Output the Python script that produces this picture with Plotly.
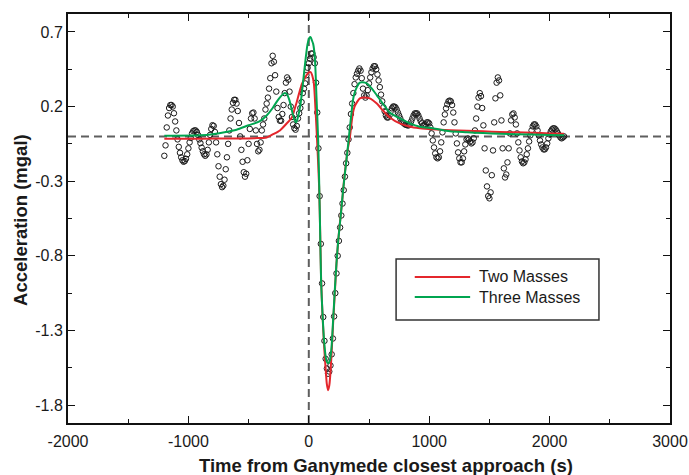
import plotly.graph_objects as go

# Observed acceleration, sampled every 10 s from -1200 s to 2120 s
t_start, t_step = -1200, 10
obs_accel = [
    -0.13, -0.06, 0.06, 0.14, 0.19, 0.21, 0.21, 0.20, 0.155, 0.10,
    0.04, -0.02, -0.07, -0.11, -0.14, -0.16, -0.17, -0.165, -0.15, -0.12,
    -0.08, -0.04, -0.01, 0.02, 0.035, 0.04, 0.04, 0.03, 0.01, -0.02,
    -0.045, -0.075, -0.10, -0.12, -0.13, -0.12, -0.09, -0.04, 0.01, 0.05,
    0.075, 0.07, 0.03, -0.04, -0.12, -0.20, -0.27, -0.32, -0.34, -0.33,
    -0.29, -0.22, -0.14, -0.05, 0.04, 0.12, 0.18, 0.225, 0.245, 0.245,
    0.22, 0.17, 0.09, 0.0, -0.09, -0.17, -0.24, -0.27, -0.25, -0.16,
    -0.05, 0.05, 0.12, 0.155, 0.16, 0.12, 0.04, -0.05, -0.10, -0.09,
    -0.04, 0.04, 0.08, 0.12, 0.18, 0.22, 0.26, 0.32, 0.39, 0.49,
    0.54, 0.50, 0.41, 0.30, 0.19, 0.13, 0.105, 0.105, 0.15, 0.21,
    0.29, 0.36, 0.395, 0.38, 0.30, 0.20, 0.13, 0.08, 0.055, 0.045,
    # t = -100 s
    0.07, 0.12, 0.155, 0.19, 0.23, 0.29, 0.32, 0.355, 0.41, 0.46,
    # t = 0 s
    0.49, 0.52, 0.555, 0.555, 0.53, 0.49, 0.36, 0.16, -0.08, -0.40,
    -0.72, -0.985, -1.21, -1.37, -1.49, -1.555, -1.59, -1.575, -1.535, -1.46,
    -1.354, -1.206, -1.05, -0.918, -0.80, -0.70, -0.61, -0.53, -0.45, -0.36,
    -0.27, -0.18, -0.11, -0.02, 0.06, 0.15, 0.22, 0.29, 0.35, 0.395,
    0.42, 0.44, 0.455, 0.44, 0.39, 0.32, 0.275, 0.26, 0.275, 0.31,
    0.355, 0.395, 0.43, 0.455, 0.47, 0.47, 0.45, 0.415, 0.375, 0.33,
    0.28, 0.235, 0.195, 0.168, 0.14, 0.127, 0.127, 0.14, 0.168, 0.188,
    0.20, 0.20, 0.195, 0.18, 0.16, 0.14, 0.12, 0.10, 0.094, 0.087,
    0.08, 0.077, 0.074, 0.074, 0.08, 0.10, 0.12, 0.14, 0.154, 0.154,
    0.154, 0.14, 0.12, 0.10, 0.087, 0.074, 0.074, 0.08, 0.094, 0.094,
    # t = 1000 s
    0.087, 0.06, 0.02, -0.027, -0.074, -0.114, -0.14, -0.147, -0.14, -0.10,
    -0.04, 0.027, 0.094, 0.147, 0.188, 0.215, 0.235, 0.24, 0.235, 0.21,
    0.16, 0.094, 0.02, -0.047, -0.107, -0.147, -0.174, -0.174, -0.147, -0.10,
    -0.054, -0.02, -0.013, -0.02, -0.034, -0.047, -0.04, -0.013, 0.04, 0.12,
    0.20, 0.26, 0.29, 0.27, 0.19, 0.074, -0.08, -0.228, -0.335, -0.40,
    -0.415, -0.375, -0.26, -0.094, 0.094, 0.255, 0.36, 0.395, 0.375, 0.275,
    0.107, -0.08, -0.214, -0.275, -0.255, -0.174, -0.08, 0.02, 0.107, 0.147,
    0.154, 0.127, 0.08, 0.02, -0.04, -0.094, -0.14, -0.168, -0.18, -0.174,
    -0.154, -0.12, -0.08, -0.034, 0.007, 0.04, 0.067, 0.08, 0.08, 0.067,
    0.04, 0.007, -0.027, -0.054, -0.074, -0.087, -0.087, -0.074, -0.047, -0.013,
    # t = 2000 s
    0.013, 0.034, 0.047, 0.054, 0.054, 0.047, 0.034, 0.02, 0.007, -0.007,
    -0.013, -0.007, 0.0,
]
obs_time = [t_start + i * t_step for i in range(len(obs_accel))]

# Model with two point masses
two_time = [-1200, -900, -600, -450, -350, -300, -240, -183, -141, -116,
            -100, -80, -58, -33, -10, 5, 17, 28, 42, 55,
            69, 86, 95, 102, 114, 127, 140, 150, 160, 170,
            180, 189, 202, 216, 230, 252, 280, 293, 310, 325,
            341, 355, 366, 380, 399, 424, 465, 507, 565, 615,
            673, 756, 839, 922, 1030, 1172, 1313, 1446, 1587, 1862,
            2003, 2120]
two_accel = [-0.015, -0.015, -0.014, -0.012, -0.007, 0.013, 0.04, 0.087, 0.127, 0.188,
             0.23, 0.29, 0.35, 0.39, 0.42, 0.43, 0.43, 0.41, 0.355, 0.19,
             -0.03, -0.34, -0.66, -0.95, -1.2, -1.40, -1.56, -1.66, -1.70, -1.67,
             -1.58, -1.455, -1.25, -1.05, -0.85, -0.63, -0.41, -0.29, -0.17, -0.08,
             -0.007, 0.09, 0.154, 0.20, 0.228, 0.255, 0.26, 0.255, 0.22, 0.174,
             0.127, 0.087, 0.065, 0.055, 0.048, 0.042, 0.038, 0.034, 0.03, 0.024,
             0.02, 0.018]

# Model with three point masses
three_time = [-1200, -900, -800, -700, -600, -500, -410, -350, -300, -260,
              -225, -200, -180, -160, -145, -130, -115, -105, -90, -70,
              -55, -40, -25, -10, 5, 15, 25, 36, 50, 64,
              78, 91, 102, 114, 127, 141, 150, 160, 175, 189,
              202, 216, 230, 244, 264, 285, 300, 315, 330, 341,
              355, 366, 380, 399, 424, 449, 482, 524, 565, 615,
              673, 756, 839, 922, 1030, 1172, 1313, 1446, 1587, 1862,
              2003, 2120]
three_accel = [0.005, 0.008, 0.015, 0.028, 0.045, 0.075, 0.10, 0.14, 0.19, 0.24,
               0.275, 0.29, 0.28, 0.24, 0.19, 0.14, 0.105, 0.094, 0.13, 0.21,
               0.31, 0.42, 0.53, 0.62, 0.66, 0.665, 0.645, 0.62, 0.53, 0.26,
               -0.027, -0.5, -0.965, -1.19, -1.37, -1.48, -1.51, -1.52, -1.50, -1.41,
               -1.23, -1.03, -0.85, -0.70, -0.54, -0.36, -0.25, -0.14, -0.03, 0.06,
               0.16, 0.24, 0.29, 0.33, 0.36, 0.362, 0.355, 0.32, 0.275, 0.22,
               0.16, 0.12, 0.087, 0.065, 0.054, 0.035, 0.028, 0.022, 0.018, 0.012,
               0.01, 0.007]

x_tick_vals = [-2000, -1000, 0, 1000, 2000, 3000]
x_tick_text = ["-2000", "-1000", "0", "1000", "2000", "3000"]
x_minor_vals = [-1500, -500, 500, 1500, 2500]
y_tick_vals = [-1.8, -1.3, -0.8, -0.3, 0.2, 0.7]
y_tick_text = ["-1.8", "-1.3", "-0.8", "-0.3", "0.2", "0.7"]
y_minor_vals = [-1.55, -1.05, -0.55, -0.05, 0.45]

series_names = ["Two Masses", "Three Masses"]
RED = "#e4262c"
GREEN = "#00a550"
FONT = "Liberation Sans, Arial, Helvetica, sans-serif"

fig = go.Figure()
fig.add_trace(go.Scatter(
    x=obs_time, y=obs_accel, mode="markers", showlegend=False,
    marker=dict(symbol="circle-open", size=5.5, color="#1a1a1a",
                line=dict(width=1, color="#1a1a1a")),
))
fig.add_trace(go.Scatter(
    x=two_time, y=two_accel, mode="lines", name=series_names[0], showlegend=False,
    line=dict(color=RED, width=2, shape="spline", smoothing=0.7),
))
fig.add_trace(go.Scatter(
    x=three_time, y=three_accel, mode="lines", name=series_names[1], showlegend=False,
    line=dict(color=GREEN, width=2, shape="spline", smoothing=0.7),
))

dash = dict(color="#5e5e5e", width=2, dash="8px,5px")
shapes = [
    dict(type="line", xref="paper", yref="y", x0=0, x1=1, y0=0, y1=0, line=dash, layer="below"),
    dict(type="line", xref="x", yref="paper", x0=0, x1=0, y0=0, y1=1, line=dash, layer="below"),
    # legend box and its line samples
    dict(type="rect", xref="paper", yref="paper", x0=0.545, x1=0.882, y0=0.252, y1=0.401,
         line=dict(color="#333333", width=1.5), fillcolor="white"),
    dict(type="line", xref="paper", yref="paper", x0=0.576, x1=0.668, y0=0.357, y1=0.357,
         line=dict(color=RED, width=2)),
    dict(type="line", xref="paper", yref="paper", x0=0.576, x1=0.668, y0=0.308, y1=0.308,
         line=dict(color=GREEN, width=2)),
]

annotations = [
    dict(text=series_names[0], xref="paper", yref="paper", x=0.679, y=0.359,
         xanchor="left", yanchor="middle", showarrow=False,
         font=dict(family=FONT, size=16, color="#1a1a1a")),
    dict(text=series_names[1], xref="paper", yref="paper", x=0.679, y=0.308,
         xanchor="left", yanchor="middle", showarrow=False,
         font=dict(family=FONT, size=16, color="#1a1a1a")),
    dict(text="Time from Ganymede closest approach (s)", xref="paper", yref="paper",
         x=0.529, y=-0.103, xanchor="center", yanchor="middle", showarrow=False,
         font=dict(family=FONT, size=18.5, color="#1a1a1a", weight="bold")),
    dict(text="Acceleration (mgal)", xref="paper", yref="paper", textangle=-90,
         x=-0.08, y=0.496, xanchor="center", yanchor="middle", showarrow=False,
         font=dict(family=FONT, size=18.5, color="#1a1a1a", weight="bold")),
]

axis_common = dict(
    showgrid=False, zeroline=False, showline=True, linewidth=2, linecolor="#111111",
    mirror="allticks", ticks="inside", ticklen=7, tickwidth=1.3, tickcolor="#111111",
    tickfont=dict(family=FONT, size=16, color="#1a1a1a"), tickmode="array",
    automargin=False,
)

fig.update_layout(
    width=689, height=475,
    margin=dict(l=68, r=19, t=14, b=52),
    paper_bgcolor="white", plot_bgcolor="white",
    shapes=shapes, annotations=annotations,
    xaxis=dict(range=[-2000, 3000], tickvals=x_tick_vals, ticktext=x_tick_text,
               ticklabelstandoff=3,
               minor=dict(tickmode="array", tickvals=x_minor_vals, ticks="inside",
                          ticklen=4, tickwidth=1.2, tickcolor="#111111", showgrid=False),
               **axis_common),
    yaxis=dict(range=[-1.92, 0.82], tickvals=y_tick_vals, ticktext=y_tick_text,
               minor=dict(tickmode="array", tickvals=y_minor_vals, ticks="inside",
                          ticklen=4, tickwidth=1.2, tickcolor="#111111", showgrid=False),
               **axis_common),
)

fig.write_html("out.html")
